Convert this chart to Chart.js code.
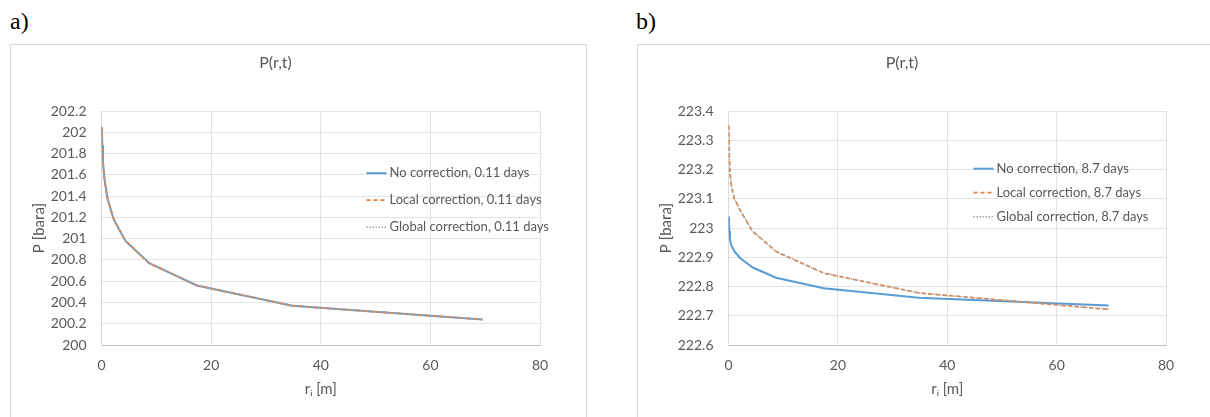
<!DOCTYPE html>
<html>
<head>
<meta charset="utf-8">
<script src="https://cdn.jsdelivr.net/npm/chart.js@4.4.1/dist/chart.umd.min.js"></script>
<style>
  body { margin: 0; background: #fff; width: 1210px; height: 417px; overflow: hidden; position: relative; }
  .tag { position: absolute; top: 9px; font: 24px "Liberation Serif", "Times New Roman", serif; line-height: 24px; color: #000; }
  .box { position: absolute; top: 44px; height: 400px; border: 1px solid #d9d9d9; }
  .box canvas { position: absolute; left: 0; top: 0; }
</style>
</head>
<body>
<div class="tag" style="left:10px">a)</div>
<div class="tag" style="left:636px">b)</div>
<div class="box" style="left:10px; width:575px"><canvas id="chartA" width="575" height="372"></canvas></div>
<div class="box" style="left:637px; width:600px"><canvas id="chartB" width="572" height="372"></canvas></div>
<script>
// radial distance of the grid cells [m]
const radius = [0.068, 0.136, 0.27, 0.54, 1.09, 2.17, 4.35, 8.7, 17.4, 34.8, 69.5];

// a) 0.11 days
const noCorrA = [202.05, 201.88, 201.72, 201.56, 201.38, 201.19, 200.98, 200.77, 200.56, 200.37, 200.24];
const localCorrA = [202.05, 201.88, 201.72, 201.56, 201.38, 201.19, 200.98, 200.77, 200.56, 200.37, 200.24];
const globalCorrA = [202.05, 201.88, 201.72, 201.56, 201.38, 201.19, 200.98, 200.77, 200.56, 200.37, 200.24];

// b) 8.7 days
const noCorrB = [223.04, 222.99, 222.96, 222.94, 222.92, 222.897, 222.866, 222.83, 222.794, 222.762, 222.735];
const localCorrB = [223.35, 223.26, 223.19, 223.14, 223.10, 223.06, 222.99, 222.92, 222.846, 222.778, 222.722];
const globalCorrB = [223.35, 223.26, 223.19, 223.14, 223.10, 223.06, 222.99, 222.92, 222.846, 222.778, 222.722];

const xTicks = [0, 20, 40, 60, 80];
const yTicksA = [200, 200.2, 200.4, 200.6, 200.8, 201, 201.2, 201.4, 201.6, 201.8, 202, 202.2];
const yTicksB = [222.6, 222.7, 222.8, 222.9, 223, 223.1, 223.2, 223.3, 223.4];

const textGrey = '#595959';
const font = 'Lato';

const insideLegend = {
    id: 'insideLegend',
    afterDraw: (chart, args, opts) => {
        const ctx = chart.ctx;
        const area = chart.chartArea;
        ctx.save();
        ctx.font = '13px ' + font;
        ctx.textBaseline = 'middle';
        ctx.textAlign = 'left';
        chart.data.datasets.forEach((ds, i) => {
            const x = area.left + opts.left;
            const y = area.top + opts.top + i * opts.gap;
            ctx.strokeStyle = ds.borderColor;
            ctx.lineWidth = ds.borderWidth;
            ctx.setLineDash(ds.borderDash || []);
            ctx.beginPath();
            ctx.moveTo(x, y);
            ctx.lineTo(x + 20, y);
            ctx.stroke();
            ctx.setLineDash([]);
            ctx.fillStyle = textGrey;
            ctx.fillText(ds.label, x + 23, y);
        });
        ctx.restore();
    }
};

function toPoints(ys) {
    return radius.map((r, i) => ({ x: r, y: ys[i] }));
}

function makeChart(id, days, series, yTicks, yMin, yMax, legendPos, rightPad) {
    const datasets = [
        { label: 'No correction, ' + days + ' days', data: toPoints(series[0]),
          borderColor: '#5B9BD5', borderWidth: 2, order: 3 },
        { label: 'Local correction, ' + days + ' days', data: toPoints(series[1]),
          borderColor: '#ED7D31', borderWidth: 1.75, borderDash: [4, 3], order: 2 },
        { label: 'Global correction, ' + days + ' days', data: toPoints(series[2]),
          borderColor: '#A5A5A5', borderWidth: 1.5, borderDash: [1.5, 1.5], order: 1 }
    ];
    datasets.forEach(ds => { ds.pointRadius = 0; ds.tension = 0; ds.fill = false; });

    return new Chart(document.getElementById(id), {
        type: 'line',
        data: { datasets: datasets },
        options: {
            responsive: false,
            animation: false,
            layout: { padding: { left: 0, right: rightPad, top: 0, bottom: 0 } },
            plugins: {
                legend: { display: false },
                tooltip: { enabled: false },
                title: {
                    display: true,
                    text: 'P(r,t)',
                    color: textGrey,
                    font: { family: font, size: 16, weight: 'normal' },
                    padding: { top: 8, bottom: 39 }
                },
                insideLegend: legendPos
            },
            scales: {
                x: {
                    type: 'linear',
                    min: 0,
                    max: 80,
                    afterBuildTicks: s => { s.ticks = xTicks.map(v => ({ value: v })); },
                    afterFit: s => { s.height = 72; },
                    grid: { color: '#e3e3e3', drawTicks: false },
                    border: { color: '#bfbfbf', width: 1 },
                    ticks: { color: textGrey, padding: 12, font: { family: font, size: 14 } },
                    title: {
                        display: true, text: 'rᵢ [m]', color: textGrey,
                        font: { family: font, size: 15 },
                        padding: { top: 0, bottom: 19 }
                    }
                },
                y: {
                    min: yMin,
                    max: yMax,
                    afterBuildTicks: s => { s.ticks = yTicks.map(v => ({ value: v })); },
                    afterFit: s => { s.width = 90.5; },
                    grid: { color: '#e3e3e3', drawTicks: false },
                    border: { color: '#d9d9d9', width: 1 },
                    ticks: {
                        color: textGrey, padding: 15, font: { family: font, size: 14 },
                        callback: v => String(Number(v.toFixed(2)))
                    },
                    title: {
                        display: true, text: 'P [bara]', color: textGrey,
                        font: { family: font, size: 15 },
                        padding: { top: 19, bottom: 0 }
                    }
                }
            }
        },
        plugins: [insideLegend]
    });
}

makeChart('chartA', '0.11', [noCorrA, localCorrA, globalCorrA], yTicksA, 200, 202.2,
    { left: 265, top: 62, gap: 27 }, 46);
makeChart('chartB', '8.7', [noCorrB, localCorrB, globalCorrB], yTicksB, 222.6, 223.4,
    { left: 245, top: 57.5, gap: 24 }, 44);
</script>
</body>
</html>
